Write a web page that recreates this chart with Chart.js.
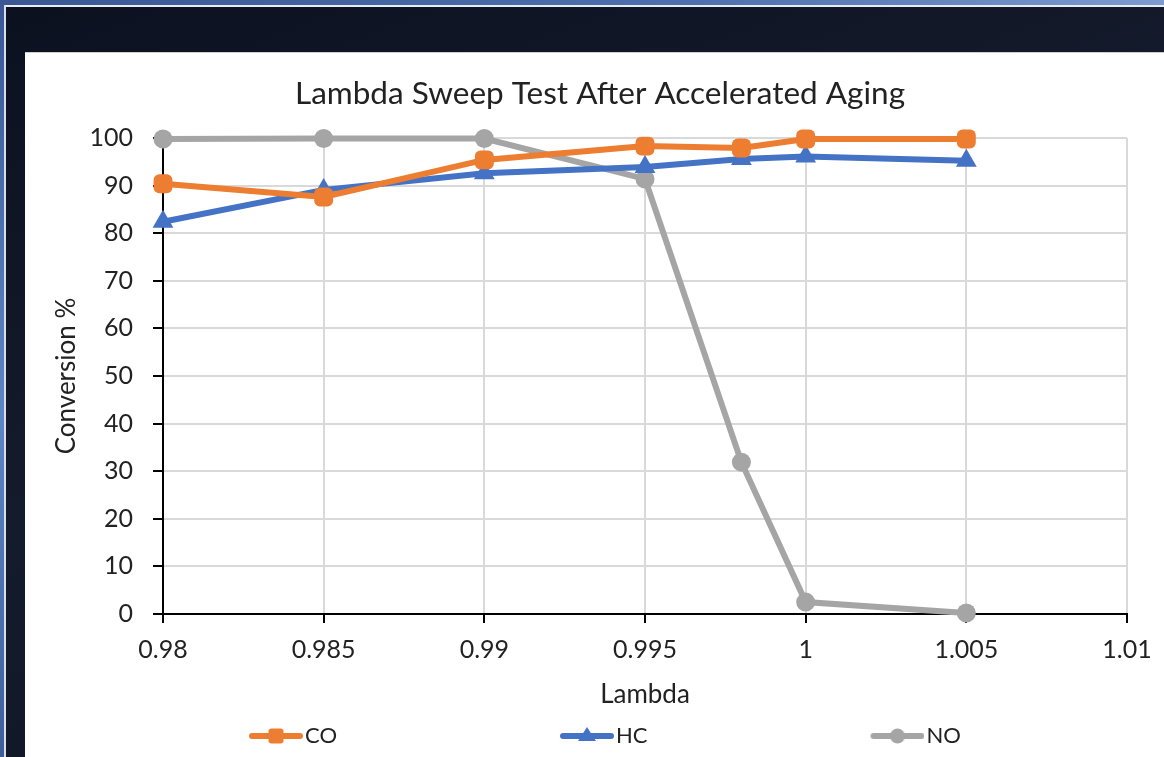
<!DOCTYPE html>
<html lang="en">
<head>
  <meta charset="UTF-8">
  <title>Lambda Sweep Test After Accelerated Aging</title>
  <script src="https://cdn.jsdelivr.net/npm/chart.js"></script>
  <style>
    html, body { margin: 0; padding: 0; width: 1164px; height: 757px; overflow: hidden; }
    body { background: linear-gradient(160deg, #0c1120 0%, #141b2c 45%, #0d1322 100%); position: relative; }
    #topstrip { position: absolute; left: 0; top: 0; width: 1164px; height: 5px; background: linear-gradient(90deg, #3a5794, #4f6fae 60%, #7d9bd0); }
    #topline { position: absolute; left: 0; top: 5px; width: 1164px; height: 2px; background: #e8ecf4; }
    #leftstrip { position: absolute; left: 0; top: 0; width: 4px; height: 757px; background: linear-gradient(180deg, #3a5794, #5d86c4 55%, #3c5f9a); }
    #leftline { position: absolute; left: 4px; top: 5px; width: 2px; height: 752px; background: #d9dee8; }
    #panel { position: absolute; left: 25px; top: 52px; width: 1139px; height: 705px; background: #fff; border-top: 1px solid #cfcfcf; }
    canvas { position: absolute; left: 0; top: 0; }
  </style>
</head>
<body>
  <div id="topstrip"></div>
  <div id="topline"></div>
  <div id="leftstrip"></div>
  <div id="leftline"></div>
  <div id="panel"></div>
  <canvas id="grafico" width="1174" height="757"></canvas>

  <script>
    // datos
    const lambdas = [0.98, 0.985, 0.99, 0.995, 0.998, 1, 1.005];
    const co = [90.4, 87.6, 95.4, 98.3, 97.9, 99.8, 99.8];
    const hc = [82.4, 89.1, 92.6, 93.9, 95.6, 96.1, 95.2];
    const no = [99.8, 99.9, 99.9, 91.4, 31.9, 2.5, 0.2];
    const yTicks = [0, 10, 20, 30, 40, 50, 60, 70, 80, 90, 100];
    const xTickLabels = ['0.98', '0.985', '0.99', '0.995', '1', '1.005', '1.01'];

    const naranja = '#ED7D31', azul = '#4472C4', gris = '#A5A5A5';
    const fuente = 'Lato, "Open Sans", sans-serif';

    // icono de leyenda: linea con marcador, margen transparente a la izquierda
    function icono(color, estilo) {
      const c = document.createElement('canvas');
      c.width = 276; c.height = 20;
      const g = c.getContext('2d');
      g.strokeStyle = color; g.fillStyle = color;
      g.lineWidth = 6; g.lineCap = 'round';
      g.beginPath(); g.moveTo(225, 10); g.lineTo(273, 10); g.stroke();
      g.beginPath();
      if (estilo === 'rect') {
        g.roundRect(241.5, 2.5, 15, 15, 3);
      } else if (estilo === 'tri') {
        g.moveTo(249, 1); g.lineTo(258, 15); g.lineTo(240, 15); g.closePath();
      } else {
        g.arc(249, 10, 7.5, 0, Math.PI * 2);
      }
      g.fill();
      return c;
    }
    const iconos = [icono(naranja, 'rect'), icono(azul, 'tri'), icono(gris, 'circ')];

    const ctx = document.getElementById('grafico').getContext('2d');
    const chart = new Chart(ctx, {
      type: 'line',
      data: {
        datasets: [{
          label: 'CO',
          data: lambdas.map((x, i) => ({ x, y: co[i] })),
          borderColor: naranja, backgroundColor: naranja,
          pointStyle: 'rectRounded', pointRadius: 11, pointBorderWidth: 0,
          borderWidth: 6, clip: false
        }, {
          label: 'HC',
          data: lambdas.map((x, i) => ({ x, y: hc[i] })),
          borderColor: azul, backgroundColor: azul,
          pointStyle: 'triangle', pointRadius: 12, pointBorderWidth: 0,
          borderWidth: 6, clip: false
        }, {
          label: 'NO',
          data: lambdas.map((x, i) => ({ x, y: no[i] })),
          borderColor: gris, backgroundColor: gris,
          pointStyle: 'circle', pointRadius: 9.5, pointBorderWidth: 0,
          borderWidth: 6, clip: false
        }]
      },
      options: {
        responsive: false,
        animation: false,
        layout: { padding: { left: 26, right: 0, top: 53, bottom: 0 } },
        scales: {
          x: {
            type: 'linear', min: 0.98, max: 1.01,
            afterFit: s => { s.paddingRight = 47; s.height = 101; },
            ticks: {
              stepSize: 0.005, padding: 12, color: '#222',
              font: { family: fuente, size: 25 },
              callback: v => {
                const t = Number(v.toFixed(3)).toString();
                return xTickLabels.includes(t) ? t : '';
              }
            },
            grid: { color: '#d9d9d9', lineWidth: 2, tickLength: 9, tickColor: '#000' },
            border: { color: '#000', width: 2 },
            title: { display: true, text: 'Lambda', color: '#222',
                     font: { family: fuente, size: 26 }, padding: { top: 14.4, bottom: 4.4 } }
          },
          y: {
            min: 0, max: 100,
            afterFit: s => { s.width = 137; },
            afterBuildTicks: s => { s.ticks = yTicks.map(v => ({ value: v })); },
            ticks: { padding: 20, color: '#222', font: { family: fuente, size: 25 } },
            grid: { color: '#d9d9d9', lineWidth: 2, tickLength: 10, tickColor: '#000' },
            border: { color: '#000', width: 2 },
            title: { display: true, text: 'Conversion %', color: '#222',
                     font: { family: fuente, size: 26 }, padding: { top: 25.4, bottom: 4 } }
          }
        },
        plugins: {
          title: {
            display: true,
            text: 'Lambda Sweep Test After Accelerated Aging',
            color: '#222',
            font: { family: fuente, size: 31.5, weight: 'normal' },
            padding: { top: 22, bottom: 25.2 }
          },
          legend: {
            position: 'bottom',
            align: 'start',
            labels: {
              usePointStyle: true,
              pointStyleWidth: 258,
              padding: 10,
              color: '#222',
              font: { family: fuente, size: 22 },
              generateLabels: c => Chart.defaults.plugins.legend.labels.generateLabels(c)
                .map((l, i) => Object.assign(l, { pointStyle: iconos[i] }))
            }
          },
          tooltip: { enabled: false }
        }
      }
    });
  </script>
</body>
</html>
